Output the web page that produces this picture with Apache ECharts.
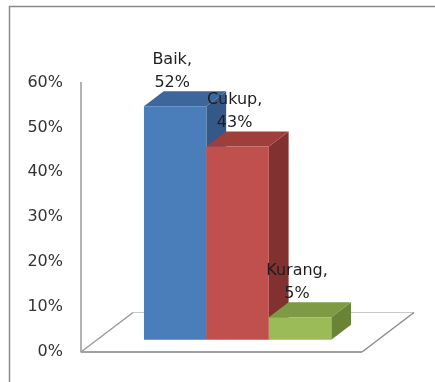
<!DOCTYPE html>
<html>
<head>
<meta charset="utf-8">
<script src="https://cdn.jsdelivr.net/npm/echarts@6/dist/echarts.min.js"></script>
<style>
html,body{margin:0;padding:0;background:#fff;}
#c{width:435px;height:382px;}
</style>
</head>
<body>
<div id="c"></div>
<script>
// ---- data ----
const seriesNames = ['Baik', 'Cukup', 'Kurang'];
const seriesValues = [52, 43, 5];
const categories = [''];
const yMin = 0, yMax = 60, yStep = 10;

// ---- style ----
const FONT = 'DejaVu Sans';
const faceColors = [
  { front: '#4A7EBB', top: '#3D679C', side: '#345887' },
  { front: '#C0504D', top: '#9E3F3C', side: '#813230' },
  { front: '#9BBB59', top: '#7E9A45', side: '#6A8437' }
];
const DX = 52, DY = -39.5;       // floor depth projection
const BAR_START = 0.31, BAR_DEPTH = 0.38;

const chart = echarts.init(document.getElementById('c'), null, { renderer: 'canvas' });

function renderFloor(params, api) {
  const cs = params.coordSys;
  const x0 = cs.x, x1 = cs.x + cs.width, y = cs.y + cs.height;
  return {
    type: 'group',
    children: [
      { type: 'polygon', shape: { points: [[x0, y], [x1, y], [x1 + DX, y + DY], [x0 + DX, y + DY]] },
        style: { fill: '#fff', stroke: null } },
      { type: 'line', shape: { x1: x0 + DX, y1: y + DY, x2: x1 + DX, y2: y + DY },
        style: { stroke: '#c8c8c8', lineWidth: 1 } },
      { type: 'line', shape: { x1: x0, y1: y, x2: x0 + DX, y2: y + DY },
        style: { stroke: '#9a9a9a', lineWidth: 1.5 } },
      { type: 'line', shape: { x1: x1, y1: y, x2: x1 + DX, y2: y + DY },
        style: { stroke: '#8c8c8c', lineWidth: 1.5 } },
      { type: 'line', shape: { x1: x0, y1: y, x2: x1, y2: y },
        style: { stroke: '#a0a0a0', lineWidth: 2 } }
    ]
  };
}

function renderBar(params, api) {
  const idx = api.value(2);
  const v = api.value(1);
  const base = api.coord([0, yMin]);
  const topPt = api.coord([0, v]);
  const band = api.size([1, 0])[0];
  const w = band / 4.5;
  const ox = DX * BAR_START, oy = DY * BAR_START;
  const dx = DX * BAR_DEPTH, dy = DY * BAR_DEPTH;
  const xl = base[0] - 1.5 * w + idx * w + ox;
  const xr = xl + w;
  const yb = base[1] + oy;
  const yt = topPt[1] + oy;
  const c = faceColors[idx];
  return {
    type: 'group',
    children: [
      { type: 'polygon', shape: { points: [[xr, yt], [xr + dx, yt + dy], [xr + dx, yb + dy], [xr, yb]] },
        style: { fill: c.side } },
      { type: 'polygon', shape: { points: [[xl, yt], [xl + dx, yt + dy], [xr + dx, yt + dy], [xr, yt]] },
        style: { fill: c.top } },
      { type: 'rect', shape: { x: xl, y: yt, width: w, height: yb - yt },
        style: { fill: c.front } }
    ]
  };
}

function renderLabel(params, api) {
  const idx = api.value(2);
  const v = api.value(1);
  const base = api.coord([0, yMin]);
  const topPt = api.coord([0, v]);
  const band = api.size([1, 0])[0];
  const w = band / 4.5;
  const ox = DX * BAR_START, oy = DY * BAR_START;
  const xc = base[0] - 1.5 * w + idx * w + ox + w / 2 - 3;
  const yt = topPt[1] + oy;
  return {
    type: 'text',
    style: {
      text: seriesNames[idx] + ',\n' + v + '%',
      x: xc, y: yt - 12,
      align: 'center', verticalAlign: 'bottom',
      font: '16px "' + FONT + '"', lineHeight: 23,
      fill: '#1e1e1e'
    }
  };
}

const barData = seriesValues.map((v, i) => [0, v, i]);

chart.setOption({
  animation: false,
  backgroundColor: '#fff',
  graphic: [
    { type: 'rect', shape: { x: 9.5, y: 6.5, width: 700, height: 700 },
      style: { fill: null, stroke: '#8a8a8a', lineWidth: 1.5 }, silent: true, z: 0 }
  ],
  grid: { left: 81, right: 73, top: 82.5, bottom: 30, containLabel: false },
  xAxis: { type: 'category', data: categories, show: false, boundaryGap: true },
  yAxis: {
    type: 'value', min: yMin, max: yMax, interval: yStep,
    axisLine: { show: true, lineStyle: { color: '#9a9a9a', width: 1.5 } },
    axisTick: { show: false },
    splitLine: { show: false },
    axisLabel: { formatter: '{value}%', margin: 18, fontSize: 16, fontFamily: FONT, color: '#333' }
  },
  series: [
    { type: 'custom', name: 'floor', renderItem: renderFloor, data: [[0, 0, 0]], z: 1, silent: true },
    { type: 'custom', name: 'bars', renderItem: renderBar, data: barData, z: 2,
      encode: { x: 0, y: 1 } },
    { type: 'custom', name: 'labels', renderItem: renderLabel, data: barData, z: 3,
      encode: { x: 0, y: 1 } }
  ]
});
</script>
</body>
</html>
